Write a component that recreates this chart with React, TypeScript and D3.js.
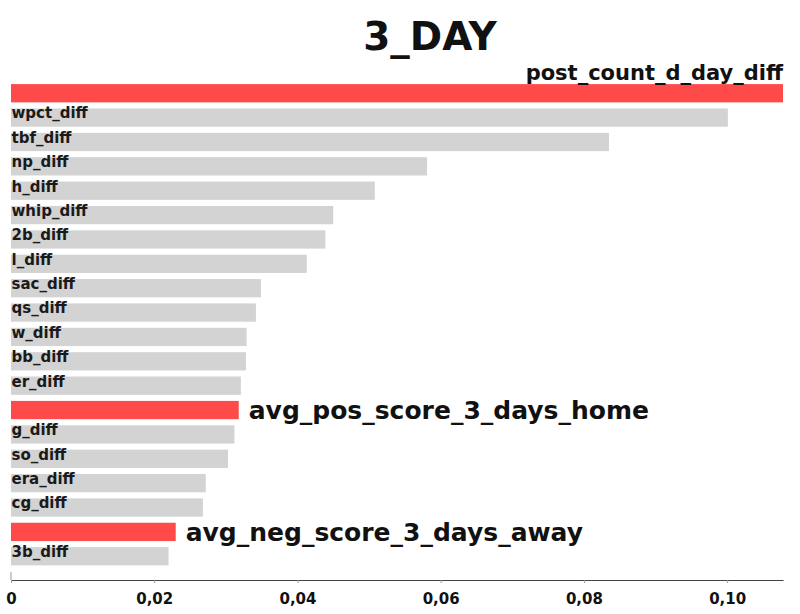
import React, {useEffect, useRef} from 'react';
import * as d3 from "d3";

const TITLE = "3_DAY";

const features = [
    "post_count_d_day_diff", "wpct_diff", "tbf_diff", "np_diff", "h_diff",
    "whip_diff", "2b_diff", "l_diff", "sac_diff", "qs_diff",
    "w_diff", "bb_diff", "er_diff", "avg_pos_score_3_days_home", "g_diff",
    "so_diff", "era_diff", "cg_diff", "avg_neg_score_3_days_away", "3b_diff"
];

const importances = [
    0.1078, 0.1001, 0.0835, 0.0581, 0.0508,
    0.0450, 0.0439, 0.0413, 0.0349, 0.0342,
    0.0329, 0.0328, 0.0321, 0.0318, 0.0312,
    0.0303, 0.0272, 0.0268, 0.0230, 0.0220
];

// features drawn in red with a big label
const highlighted = ["post_count_d_day_diff", "avg_pos_score_3_days_home", "avg_neg_score_3_days_away"];

const tickValues = [0, 0.02, 0.04, 0.06, 0.08, 0.10];

const FONT = '"DejaVu Sans", sans-serif';

function BarChart() {
    const ref = useRef<SVGSVGElement>(null);

    useEffect(() => {
        const svg = d3.select(ref.current);
        svg.selectAll("*").remove();

        const data = features.map((name, i) => ({name, value: importances[i]}));

        const x = d3.scaleLinear()
            .domain([0, d3.max(importances) as number])
            .range([11, 783]);

        const y = d3.scaleBand()
            .domain(features)
            .range([78, 571.5])
            .padding(0.25);

        const commaLocale = d3.formatLocale({decimal: ",", thousands: ".", grouping: [3], currency: ["", ""]});
        const fmt = commaLocale.format(".2f");

        // title
        svg.append("text")
            .attr("x", 430)
            .attr("y", 50)
            .attr("text-anchor", "middle")
            .style("font-family", FONT)
            .style("font-weight", "bold")
            .style("font-size", "39px")
            .style("fill", "#111")
            .text(TITLE);

        const bars = svg.selectAll(".bar")
            .data(data)
            .enter()
            .append("g");

        bars.append("rect")
            .attr("x", x(0))
            .attr("y", d => y(d.name) as number)
            .attr("height", y.bandwidth())
            .attr("width", d => x(d.value) - x(0))
            .style("fill", d => highlighted.includes(d.name) ? "#ff4a4a" : "#d3d3d3");

        // small labels inside the grey bars
        bars.filter(d => !highlighted.includes(d.name))
            .append("text")
            .attr("x", x(0) + 0.5)
            .attr("y", d => (y(d.name) as number) + 10)
            .style("font-family", FONT)
            .style("font-weight", "bold")
            .style("font-size", "15px")
            .style("fill", "#1a1a1a")
            .text(d => d.name);

        // big labels next to the red bars, the widest one goes above its bar
        bars.filter(d => highlighted.includes(d.name))
            .append("text")
            .attr("x", d => d.value === d3.max(importances) ? x(d.value) : x(d.value) + 10)
            .attr("y", d => d.value === d3.max(importances)
                ? (y(d.name) as number) - 4
                : (y(d.name) as number) + y.bandwidth() / 2)
            .attr("dy", d => d.value === d3.max(importances) ? 0 : "0.36em")
            .attr("text-anchor", d => d.value === d3.max(importances) ? "end" : "start")
            .style("font-family", FONT)
            .style("font-weight", "bold")
            .style("font-size", d => d.value === d3.max(importances) ? "21px" : "25px")
            .style("fill", "#111")
            .text(d => d.name);

        const axis = svg.append("g")
            .attr("transform", "translate(0,580)")
            .call(d3.axisBottom(x)
                .tickValues(tickValues)
                .tickSize(3)
                .tickSizeOuter(0)
                .tickFormat(d => +d === 0 ? "0" : fmt(+d)));

        axis.select(".domain").style("stroke", "#444");
        axis.selectAll(".tick line").style("stroke", "#999");
        axis.selectAll(".tick text")
            .attr("y", 13)
            .style("font-family", FONT)
            .style("font-weight", "bold")
            .style("font-size", "15px")
            .style("fill", "#111");

        // short stub at the origin
        svg.append("line")
            .attr("x1", x(0)).attr("x2", x(0))
            .attr("y1", 572).attr("y2", 580)
            .style("stroke", "#999");
    }, []);

    return <svg ref={ref} width={800} height={614}
                style={{position: "absolute", left: 0, top: 0, background: "#fff"}}/>;
}

export default function App() {
    return <BarChart/>;
}
